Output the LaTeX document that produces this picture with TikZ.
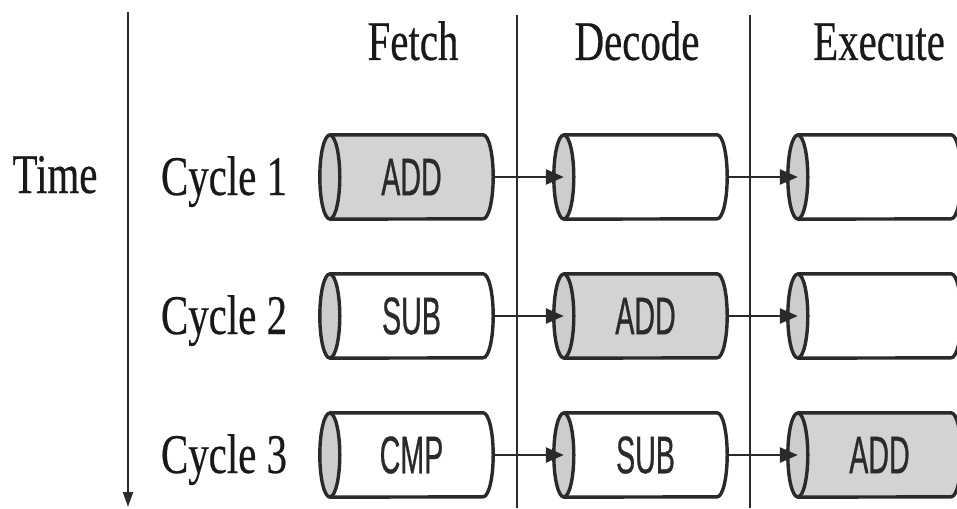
\documentclass[tikz,border=0pt]{standalone}
\usepackage{fontspec}
\setmainfont{Liberation Serif}[FakeStretch=0.73, FakeBold=0.4]
\newfontfamily\opfont{Liberation Sans}[FakeStretch=0.54, FakeBold=0.5]
\usetikzlibrary{arrows.meta}
\pgfdeclarelayer{back}
\pgfsetlayers{back,main}
\definecolor{ink}{HTML}{2A2A2A}
\definecolor{busy}{HTML}{D3D3D3}
\definecolor{capgrey}{HTML}{CDCDCD}
\tikzset{
  txt/.style={font=\fontsize{56}{60}\selectfont, anchor=base, text=black!90, inner sep=0pt},
  stage/.style={minimum width=163pt, minimum height=84pt, inner sep=0pt,
    font=\opfont\fontsize{53}{56}\selectfont, text=ink},
  shell/.style={draw=ink, line width=3.4pt, line join=round},
  flow/.style={draw=ink, line width=2.6pt, -{Triangle[length=18pt,width=15pt]}},
  rule/.style={draw=ink, line width=1.6pt},
  timeline/.style={draw=ink, line width=2.2pt, -{Triangle[length=15pt,width=10pt]}}
}
\begin{document}
\begin{tikzpicture}[x=1pt,y=-1pt]
\useasboundingbox (0,0) rectangle (957,508);
\clip (0,0) rectangle (957,508);

% column headings
\node[txt] (hf) at (413,60) {Fetch};
\node[txt] (hd) at (637,60) {Decode};
\node[txt] (he) at (879,60) {Execute};

% time axis and row labels
\node[txt] (time) at (55,193) {Time};
\node[txt] (c1) at (224,195) {Cycle 1};
\node[txt] (c2) at (224,334) {Cycle 2};
\node[txt] (c3) at (224,473) {Cycle 3};
\coordinate (t0) at (128,12);
\coordinate (t1) at (128,507);
\draw[timeline] (t0) -- (t1);

% stage separators
\coordinate (s1a) at (517,15);
\coordinate (s1b) at (517,508);
\coordinate (s2a) at (750,15);
\coordinate (s2b) at (750,508);
\draw[rule] (s1a) -- (s1b);
\draw[rule] (s2a) -- (s2b);

% pipeline registers
\node[stage] (f1) at (411.5,177) {ADD};
\node[stage] (d1) at (645.5,177) {};
\node[stage] (e1) at (879.5,177) {};
\node[stage] (f2) at (411.5,316) {SUB};
\node[stage] (d2) at (645.5,316) {ADD};
\node[stage] (e2) at (879.5,316) {};
\node[stage] (f3) at (411.5,455) {CMP};
\node[stage] (d3) at (645.5,455) {SUB};
\node[stage] (e3) at (879.5,455) {ADD};

\begin{pgfonlayer}{back}
\clip (0,0) rectangle (957,508);
\foreach \n/\c in {f1/busy, d1/white, e1/white,
                   f2/white, d2/busy, e2/white,
                   f3/white, d3/white, e3/busy} {
  \draw[shell, fill=\c] (\n.north west) -- ([xshift=-10pt]\n.north east)
    arc[start angle=90, end angle=-90, x radius=10pt, y radius=42pt]
    -- (\n.south west) -- cycle;
  \draw[shell, fill=capgrey] (\n.west) ellipse[x radius=10pt, y radius=42pt];
}
\end{pgfonlayer}

% instruction flow between stages
\draw[flow] (f1.east) -- (d1.west);
\draw[flow] (d1.east) -- (e1.west);
\draw[flow] (f2.east) -- (d2.west);
\draw[flow] (d2.east) -- (e2.west);
\draw[flow] (f3.east) -- (d3.west);
\draw[flow] (d3.east) -- (e3.west);
\end{tikzpicture}
\end{document}
